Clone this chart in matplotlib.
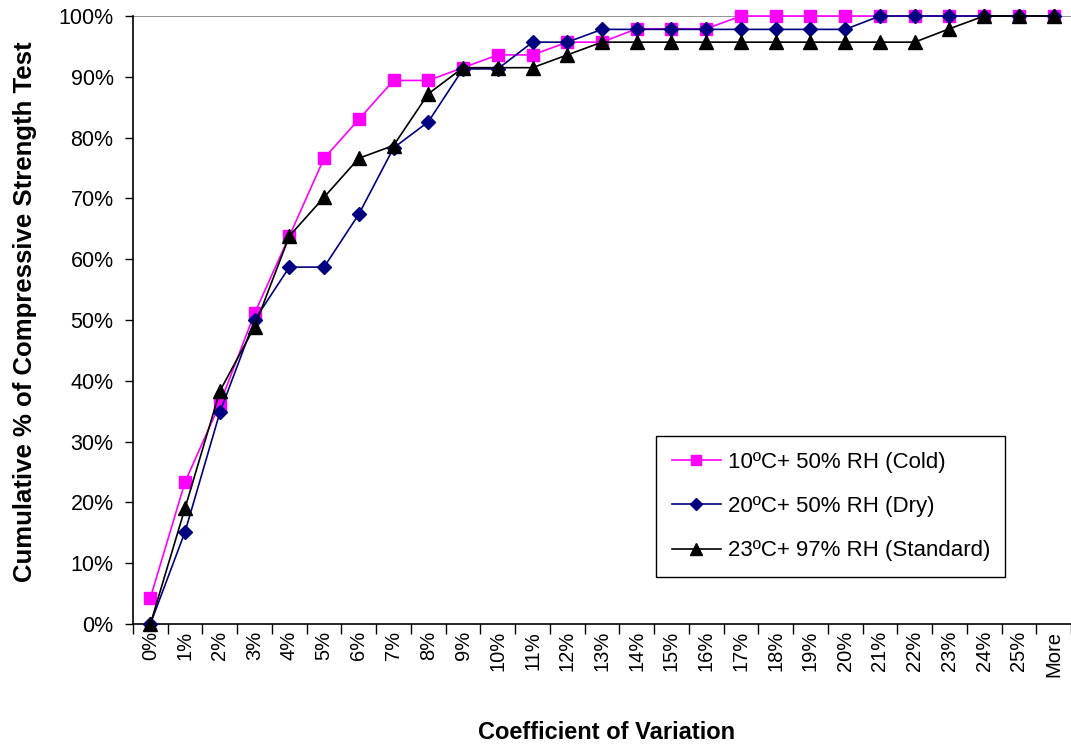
import matplotlib
matplotlib.use("Agg")
import matplotlib.pyplot as plt
from matplotlib.ticker import FixedLocator, PercentFormatter

categories = [f"{i}%" for i in range(26)] + ["More"]

cold = [4.3, 23.4, 36.2, 51.1, 63.8, 76.6, 83.0, 89.4, 89.4, 91.5, 93.6, 93.6, 95.7, 95.7,
        97.9, 97.9, 97.9, 100, 100, 100, 100, 100, 100, 100, 100, 100, 100]
dry = [0.0, 15.2, 34.8, 50.0, 58.7, 58.7, 67.4, 78.3, 82.6, 91.3, 91.3, 95.7, 95.7, 97.8,
       97.8, 97.8, 97.8, 97.8, 97.8, 97.8, 97.8, 100, 100, 100, 100, 100, 100]
standard = [0.0, 19.1, 38.3, 48.9, 63.8, 70.2, 76.6, 78.7, 87.2, 91.5, 91.5, 91.5, 93.6, 95.7,
            95.7, 95.7, 95.7, 95.7, 95.7, 95.7, 95.7, 95.7, 95.7, 97.9, 100, 100, 100]

labels = ["10ºC+ 50% RH (Cold)", "20ºC+ 50% RH (Dry)", "23ºC+ 97% RH (Standard)"]

plt.rcParams['font.family'] = ['Liberation Sans', 'DejaVu Sans']

fig = plt.figure(figsize=(10.71, 7.48), dpi=100)
ax = fig.add_axes([0.1242, 0.1658, 0.8758, 0.8128])

x = list(range(len(categories)))
ax.plot(x, cold, color='#FF00FF', marker='s', markersize=9, lw=1.2, label=labels[0],
        markeredgecolor='#FF00FF', clip_on=False, zorder=3)
ax.plot(x, dry, color='#000080', marker='D', markersize=7.5, lw=1.2, label=labels[1],
        markeredgecolor='#000080', clip_on=False, zorder=4)
ax.plot(x, standard, color='black', marker='^', markersize=10, lw=1.2, label=labels[2],
        clip_on=False, zorder=5)

ax.set_xlim(-0.5, len(categories) - 0.5)
ax.set_ylim(0, 100)
ax.axhline(100, color='#808080', lw=1.2, zorder=1)

ax.set_yticks(range(0, 101, 10))
ax.yaxis.set_major_formatter(PercentFormatter(decimals=0))
ax.tick_params(axis='y', direction='out', length=6, width=1, labelsize=15.5, pad=8)

ax.set_xticks(x)
ax.set_xticklabels(categories, rotation=90, fontsize=14.5)
ax.tick_params(axis='x', which='major', length=0, pad=5)
ax.xaxis.set_minor_locator(FixedLocator([i + 0.5 for i in range(-1, len(categories))]))
ax.tick_params(axis='x', which='minor', direction='out', length=7, width=1)

for s in ['top', 'right']:
    ax.spines[s].set_visible(False)
for s in ['left', 'bottom']:
    ax.spines[s].set_linewidth(1.2)

ax.set_xlabel("Coefficient of Variation", fontsize=17, fontweight='bold')
ax.xaxis.set_label_coords(0.505, -0.16)
ax.set_ylabel("Cumulative % of Compressive Strength Test", fontsize=18.5, fontweight='bold')
ax.yaxis.set_label_coords(-0.102, 0.513)

leg = ax.legend(loc='lower right', bbox_to_anchor=(0.942, 0.059), fontsize=16,
                frameon=True, fancybox=False, edgecolor='black', framealpha=1,
                handlelength=2.2, handletextpad=0.3, labelspacing=1.05, borderpad=0.7,
                markerscale=0.8)
leg.get_frame().set_linewidth(1.0)

fig.savefig("out.png", dpi=100)
